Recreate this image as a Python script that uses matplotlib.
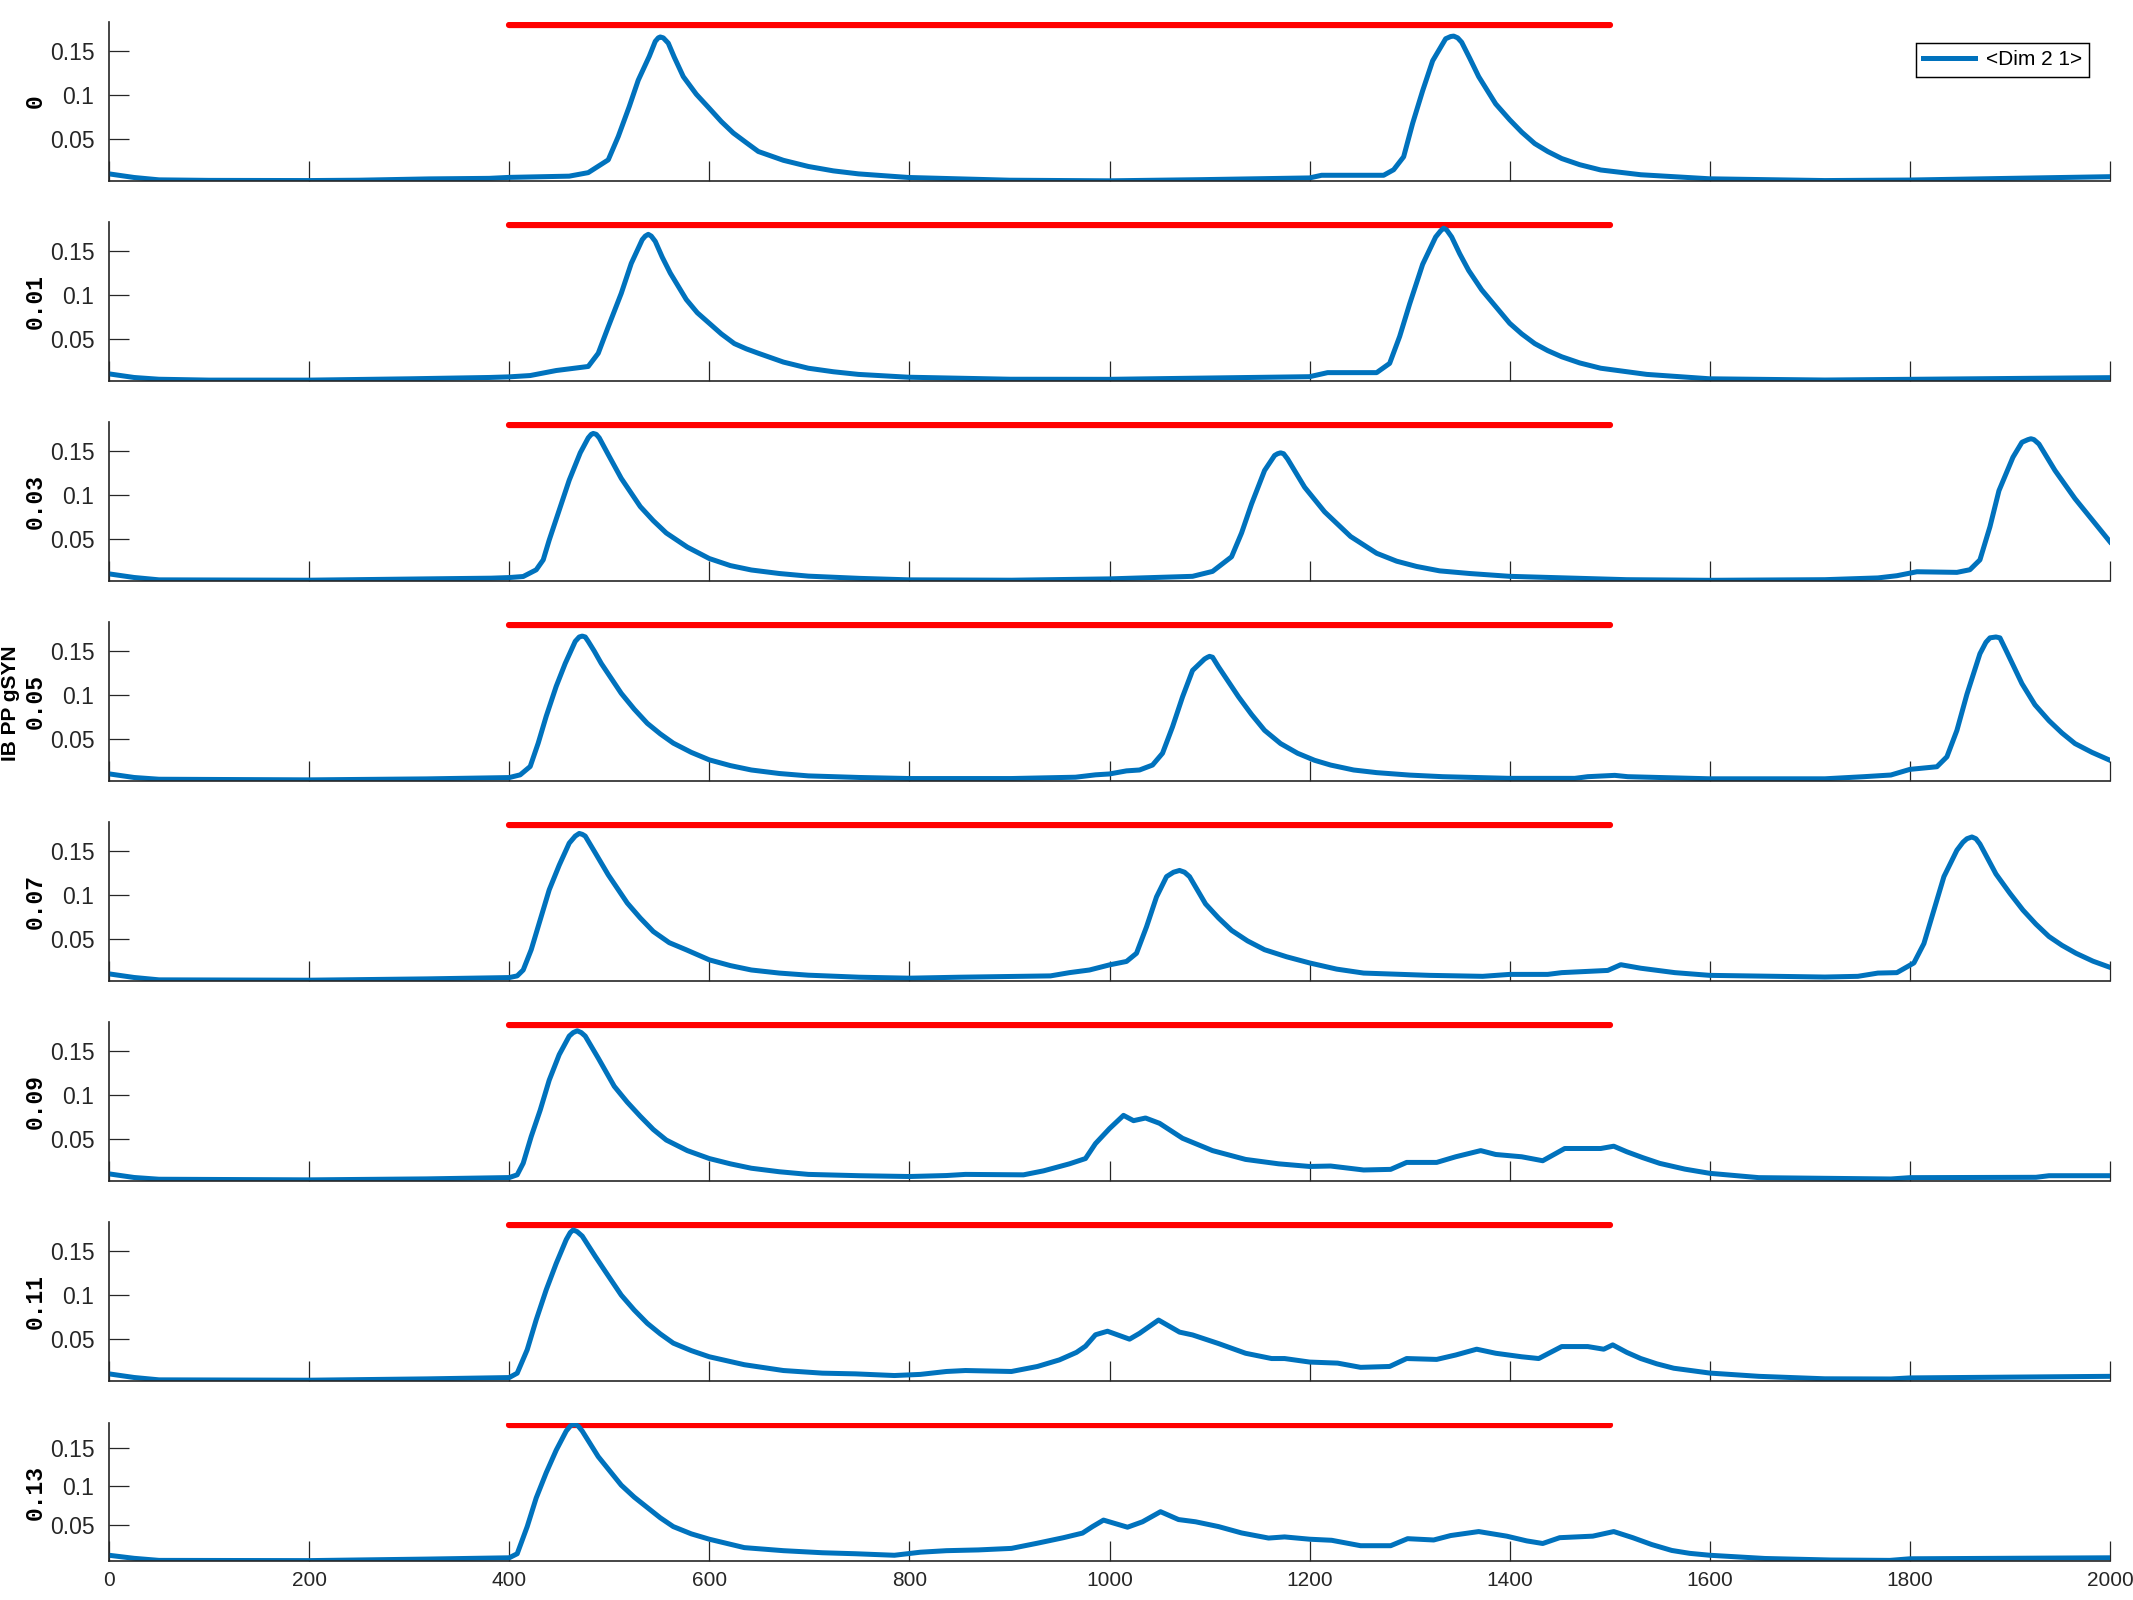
import matplotlib
matplotlib.use('Agg')
import matplotlib.pyplot as plt

# panel labels (IB PP gSYN values)
gsyn = ['0', '0.01', '0.03', '0.05', '0.07', '0.09', '0.11', '0.13']

# traces, one x/y pair per panel
t0 = [0, 25, 50, 100, 200, 250, 320, 380, 400, 460, 479, 499, 509, 520, 529, 540, 546, 549, 551, 554, 559,
      565, 574, 587, 600, 612, 624, 637, 649, 674, 699, 724, 749, 799, 900, 1000, 1090, 1200, 1212, 1274,
      1284, 1294, 1303, 1313, 1323, 1336, 1341, 1344, 1348, 1352, 1360, 1369, 1386, 1400, 1412, 1425, 1438,
      1452, 1470, 1491, 1531, 1600, 1715, 1800, 2000]
v0 = [0.0106, 0.0065, 0.0038, 0.0032, 0.0030, 0.0034, 0.0049, 0.0055, 0.0066, 0.0080, 0.012, 0.0265, 0.053,
      0.087, 0.117, 0.144, 0.161, 0.165, 0.166, 0.165, 0.159, 0.143, 0.121, 0.101, 0.085, 0.070, 0.057,
      0.046, 0.036, 0.026, 0.019, 0.014, 0.0106, 0.0065, 0.0034, 0.0027, 0.004, 0.006, 0.009, 0.009, 0.0153,
      0.030, 0.068, 0.105, 0.139, 0.164, 0.1665, 0.167, 0.165, 0.160, 0.142, 0.121, 0.090, 0.072, 0.058,
      0.045, 0.036, 0.028, 0.021, 0.015, 0.0096, 0.005, 0.003, 0.0036, 0.0074]

t1 = [0, 25, 50, 100, 200, 300, 380, 400, 421, 447, 479, 489, 499, 512, 522, 533, 536, 539, 542, 546, 553,
      561, 577, 588, 600, 612, 625, 637, 649, 674, 699, 724, 749, 799, 901, 1000, 1200, 1218, 1267, 1280,
      1290, 1300, 1313, 1326, 1331, 1334, 1337, 1342, 1350, 1359, 1372, 1386, 1400, 1412, 1425, 1438, 1452,
      1470, 1491, 1537, 1600, 1715, 2000]
v1 = [0.0106, 0.0065, 0.0045, 0.0035, 0.0035, 0.0050, 0.0065, 0.0072, 0.0087, 0.0144, 0.019, 0.034, 0.064,
      0.102, 0.136, 0.163, 0.167, 0.169, 0.167, 0.161, 0.143, 0.125, 0.095, 0.080, 0.068, 0.056, 0.045,
      0.039, 0.034, 0.024, 0.017, 0.013, 0.010, 0.0068, 0.0045, 0.0044, 0.0074, 0.012, 0.012, 0.0225, 0.053,
      0.090, 0.135, 0.166, 0.173, 0.176, 0.174, 0.166, 0.147, 0.128, 0.106, 0.087, 0.068, 0.056, 0.045,
      0.037, 0.030, 0.023, 0.017, 0.010, 0.005, 0.0036, 0.0063]

t2 = [0, 25, 50, 200, 317, 382, 400, 414, 427, 434, 440, 450, 460, 471, 479, 482, 484, 487, 490, 499, 512,
      531, 544, 557, 578, 600, 621, 642, 670, 699, 750, 800, 902, 1000, 1083, 1103, 1122, 1132, 1142, 1155,
      1165, 1168, 1171, 1174, 1178, 1195, 1215, 1241, 1267, 1287, 1307, 1330, 1360, 1400, 1517, 1600, 1715,
      1768, 1787, 1807, 1847, 1860, 1870, 1880, 1889, 1903, 1912, 1918, 1921, 1924, 1929, 1945, 1965, 1985,
      2000]
v2 = [0.0106, 0.0065, 0.0038, 0.0034, 0.0049, 0.0057, 0.0064, 0.0076, 0.0152, 0.0265, 0.049, 0.083, 0.117,
      0.148, 0.165, 0.169, 0.170, 0.169, 0.165, 0.146, 0.119, 0.087, 0.071, 0.057, 0.041, 0.028, 0.020,
      0.015, 0.011, 0.008, 0.0055, 0.0038, 0.0034, 0.0049, 0.0078, 0.0134, 0.030, 0.057, 0.090, 0.128,
      0.145, 0.147, 0.148, 0.147, 0.141, 0.109, 0.081, 0.053, 0.034, 0.025, 0.019, 0.014, 0.011, 0.0078,
      0.004, 0.0033, 0.004, 0.006, 0.0085, 0.013, 0.0123, 0.0153, 0.0265, 0.064, 0.105, 0.143, 0.160, 0.163,
      0.164, 0.163, 0.158, 0.128, 0.096, 0.068, 0.047]

t3 = [0, 25, 50, 200, 317, 400, 411, 421, 429, 437, 447, 456, 466, 470, 473, 476, 479, 485, 492, 512, 525,
      538, 551, 564, 582, 600, 621, 642, 670, 699, 750, 800, 902, 966, 986, 1000, 1017, 1030, 1043, 1053,
      1063, 1073, 1083, 1095, 1098, 1100, 1103, 1109, 1119, 1129, 1142, 1155, 1171, 1188, 1205, 1221, 1244,
      1267, 1300, 1333, 1400, 1465, 1478, 1505, 1518, 1600, 1715, 1754, 1781, 1800, 1827, 1837, 1847, 1857,
      1870, 1876, 1880, 1886, 1890, 1896, 1904, 1912, 1925, 1939, 1952, 1965, 1982, 2000]
v3 = [0.0106, 0.0065, 0.0045, 0.0038, 0.0049, 0.0064, 0.0095, 0.019, 0.0455, 0.076, 0.110, 0.136, 0.161,
      0.166, 0.167, 0.166, 0.161, 0.150, 0.136, 0.102, 0.084, 0.068, 0.056, 0.0455, 0.035, 0.0265, 0.020,
      0.015, 0.011, 0.0083, 0.0065, 0.0053, 0.0053, 0.0068, 0.0095, 0.0105, 0.014, 0.015, 0.0206, 0.034,
      0.064, 0.098, 0.128, 0.141, 0.143, 0.144, 0.143, 0.132, 0.115, 0.098, 0.078, 0.060, 0.045, 0.034,
      0.026, 0.0206, 0.015, 0.012, 0.0092, 0.0074, 0.0055, 0.0055, 0.0074, 0.0089, 0.0074, 0.005, 0.005,
      0.0074, 0.0093, 0.0157, 0.0187, 0.030, 0.060, 0.101, 0.147, 0.160, 0.165, 0.166, 0.165, 0.151, 0.132,
      0.113, 0.089, 0.071, 0.057, 0.045, 0.035, 0.026]

t4 = [0, 25, 50, 200, 317, 400, 408, 414, 422, 431, 440, 450, 460, 466, 470, 473, 476, 486, 499, 518, 531,
      544, 560, 577, 600, 621, 642, 670, 699, 750, 800, 850, 941, 960, 980, 1000, 1017, 1027, 1037, 1047,
      1057, 1064, 1070, 1075, 1080, 1096, 1109, 1122, 1138, 1155, 1177, 1200, 1227, 1254, 1320, 1373, 1400,
      1438, 1452, 1498, 1511, 1531, 1565, 1600, 1715, 1748, 1768, 1787, 1804, 1814, 1824, 1834, 1847, 1853,
      1857, 1862, 1866, 1870, 1878, 1886, 1900, 1913, 1926, 1939, 1952, 1966, 1983, 2000]
v4 = [0.0106, 0.0065, 0.0038, 0.0034, 0.0049, 0.0064, 0.0083, 0.015, 0.038, 0.072, 0.106, 0.134, 0.159,
      0.167, 0.170, 0.169, 0.167, 0.148, 0.123, 0.091, 0.074, 0.0587, 0.046, 0.0379, 0.0265, 0.020, 0.015,
      0.0115, 0.0091, 0.0068, 0.0057, 0.0068, 0.0083, 0.012, 0.015, 0.0208, 0.0247, 0.034, 0.064, 0.098,
      0.121, 0.126, 0.128, 0.126, 0.121, 0.090, 0.074, 0.060, 0.048, 0.038, 0.030, 0.023, 0.016, 0.0115,
      0.0089, 0.0078, 0.010, 0.010, 0.012, 0.0145, 0.021, 0.017, 0.012, 0.0089, 0.007, 0.0078, 0.0115,
      0.012, 0.023, 0.045, 0.083, 0.121, 0.151, 0.160, 0.164, 0.166, 0.164, 0.158, 0.141, 0.124, 0.102,
      0.083, 0.067, 0.053, 0.043, 0.034, 0.025, 0.018]

t5 = [0, 25, 50, 200, 317, 400, 408, 414, 422, 431, 440, 450, 460, 464, 468, 472, 476, 489, 505, 518, 531,
      544, 557, 578, 600, 621, 642, 670, 699, 750, 800, 837, 856, 914, 934, 960, 976, 986, 1000, 1014, 1024,
      1036, 1050, 1073, 1103, 1136, 1169, 1200, 1221, 1254, 1281, 1297, 1327, 1346, 1371, 1386, 1412, 1433,
      1455, 1491, 1504, 1517, 1533, 1550, 1575, 1600, 1649, 1781, 1800, 1926, 1939, 2000]
v5 = [0.0106, 0.0065, 0.0045, 0.0038, 0.0049, 0.0064, 0.0095, 0.0227, 0.053, 0.083, 0.117, 0.146, 0.167,
      0.171, 0.173, 0.171, 0.167, 0.142, 0.110, 0.092, 0.076, 0.061, 0.049, 0.037, 0.028, 0.022, 0.017,
      0.013, 0.010, 0.0085, 0.0076, 0.0087, 0.010, 0.0095, 0.014, 0.022, 0.028, 0.045, 0.062, 0.077, 0.071,
      0.074, 0.068, 0.051, 0.037, 0.027, 0.022, 0.019, 0.0195, 0.015, 0.0157, 0.0236, 0.0236, 0.030, 0.037,
      0.0326, 0.030, 0.0255, 0.0394, 0.0394, 0.042, 0.0357, 0.029, 0.0225, 0.016, 0.0112, 0.0063, 0.0048,
      0.0063, 0.0067, 0.0085, 0.0085]

t6 = [0, 25, 50, 200, 317, 400, 408, 418, 427, 437, 447, 457, 461, 464, 468, 473, 486, 496, 512, 525, 538,
      551, 564, 582, 600, 635, 674, 713, 746, 785, 811, 837, 856, 902, 928, 950, 967, 976, 986, 998, 1020,
      1030, 1049, 1070, 1083, 1109, 1136, 1162, 1175, 1200, 1228, 1251, 1280, 1297, 1327, 1346, 1367, 1386,
      1412, 1429, 1452, 1478, 1494, 1503, 1517, 1531, 1547, 1564, 1600, 1649, 1715, 1781, 1800, 2000]
v6 = [0.0106, 0.0065, 0.0038, 0.0034, 0.0049, 0.0064, 0.0114, 0.038, 0.072, 0.106, 0.136, 0.163, 0.171,
      0.174, 0.172, 0.167, 0.144, 0.127, 0.100, 0.083, 0.068, 0.056, 0.0455, 0.037, 0.030, 0.021, 0.0144,
      0.0114, 0.0106, 0.0087, 0.010, 0.0133, 0.0144, 0.0133, 0.019, 0.0265, 0.035, 0.042, 0.055, 0.059,
      0.050, 0.0566, 0.0717, 0.058, 0.0548, 0.045, 0.034, 0.028, 0.028, 0.024, 0.0228, 0.018, 0.019, 0.028,
      0.027, 0.032, 0.0386, 0.034, 0.030, 0.028, 0.0416, 0.0416, 0.0386, 0.0435, 0.035, 0.028, 0.022, 0.017,
      0.0115, 0.0078, 0.005, 0.0048, 0.006, 0.0078]

t7 = [0, 25, 50, 200, 317, 400, 408, 418, 427, 437, 447, 457, 461, 465, 469, 473, 489, 512, 525, 538, 551,
      564, 582, 600, 635, 674, 713, 746, 785, 811, 837, 869, 902, 928, 954, 973, 983, 994, 1018, 1033, 1051,
      1069, 1086, 1109, 1132, 1159, 1175, 1200, 1222, 1251, 1281, 1298, 1324, 1341, 1369, 1397, 1417, 1433,
      1450, 1483, 1504, 1523, 1542, 1562, 1580, 1600, 1655, 1721, 1780, 1800, 2000]
v7 = [0.010, 0.006, 0.0033, 0.003, 0.005, 0.0067, 0.012, 0.0475, 0.085, 0.118, 0.1475, 0.1725, 0.179,
      0.1817, 0.179, 0.1725, 0.139, 0.1017, 0.086, 0.0725, 0.059, 0.0475, 0.038, 0.031, 0.020, 0.016,
      0.0133, 0.012, 0.010, 0.014, 0.016, 0.017, 0.019, 0.0258, 0.033, 0.039, 0.0475, 0.056, 0.0467, 0.0538,
      0.067, 0.0567, 0.0538, 0.0475, 0.0392, 0.0325, 0.034, 0.031, 0.0296, 0.0225, 0.0225, 0.0317, 0.030,
      0.0358, 0.041, 0.035, 0.0288, 0.0254, 0.033, 0.035, 0.041, 0.033, 0.024, 0.0163, 0.0125, 0.010,
      0.0058, 0.0038, 0.0033, 0.0054, 0.0067]

times = [t0, t1, t2, t3, t4, t5, t6, t7]
traces = [v0, v1, v2, v3, v4, v5, v6, v7]

# stimulus bar
stim_t = [400, 1500]
stim_v = [0.18, 0.18]

yticks = [0.05, 0.1, 0.15]
ytick_labels = ['0.05', '0.1', '0.15']
xticks = [0, 200, 400, 600, 800, 1000, 1200, 1400, 1600, 1800, 2000]

blue = '#0072BD'
axcol = '#262626'
tickfont = ['Liberation Sans', 'DejaVu Sans']

W, H = 2133, 1600
fig = plt.figure(figsize=(W / 150, H / 150), dpi=150)

left, right = 109, 2110
for i in range(8):
    if i < 7:
        top, bot = 22 + 200 * i, 181 + 200 * i
    else:
        top, bot = 1423, 1561
    ax = fig.add_axes([left / W, 1 - bot / H, (right - left) / W, (bot - top) / H])
    ax.plot(stim_t, stim_v, color='red', lw=3, solid_capstyle='round')
    ln, = ax.plot(times[i], traces[i], color=blue, lw=2.4, label='<Dim 2 1>')
    ax.set_xlim(0, 2000)
    ax.set_ylim(0.0025, 0.183)
    ax.spines['top'].set_visible(False)
    ax.spines['right'].set_visible(False)
    for s in ('left', 'bottom'):
        ax.spines[s].set_color(axcol)
        ax.spines[s].set_linewidth(0.8)
    ax.set_yticks(yticks)
    ax.set_yticklabels(ytick_labels, family=tickfont, fontsize=11, color=axcol)
    ax.set_xticks(xticks)
    ax.tick_params(direction='in', length=9.5, width=0.6, color=axcol)
    ax.tick_params(axis='y', pad=7)
    if i < 7:
        ax.set_xticklabels([])
    else:
        ax.set_xticklabels([str(x) for x in xticks], family=tickfont, fontsize=10, color=axcol)
        ax.tick_params(axis='x', pad=5)
    ax.set_ylabel(gsyn[i], family=['Liberation Mono', 'DejaVu Sans Mono'], fontweight='bold',
                  fontsize=11)
    ax.yaxis.set_label_coords(-0.031, 0.5)
    if i == 0:
        leg = ax.legend(handles=[ln], loc='upper right', bbox_to_anchor=(0.9895, 0.868),
                        borderaxespad=0, fancybox=False, framealpha=1, edgecolor='black',
                        handlelength=2.5, handletextpad=0.5,
                        prop={'family': tickfont, 'size': 10}, borderpad=0.35)
        leg.get_frame().set_linewidth(0.7)

fig.text(11 / W, 1 - 703 / H, 'IB PP gSYN', rotation=90, ha='center', va='center',
         fontweight='bold', fontsize=10, family=['Liberation Sans', 'DejaVu Sans'])

fig.savefig('out.png', dpi=150)
